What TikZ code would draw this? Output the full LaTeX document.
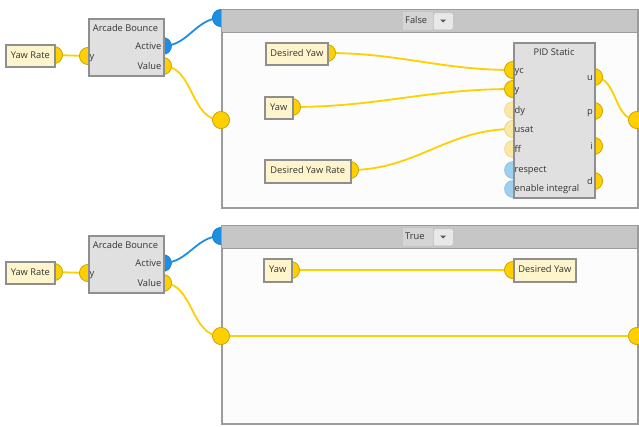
\documentclass[tikz,border=0pt]{standalone}
\usepackage{fontspec}
\setmainfont{Open Sans}
\definecolor{wirey}{HTML}{FFD000}
\definecolor{porty}{HTML}{FFD000}
\definecolor{portyb}{HTML}{C9A200}
\definecolor{portpale}{HTML}{FBE8A4}
\definecolor{portpaleb}{HTML}{E6D595}
\definecolor{portlb}{HTML}{9DD0F0}
\definecolor{portlbb}{HTML}{8ABDE0}
\definecolor{blu}{HTML}{1C8FE4}
\definecolor{blub}{HTML}{1A7CC6}
\definecolor{nodefill}{HTML}{FFF5CC}
\definecolor{nodeborder}{HTML}{8F8F8F}
\definecolor{blockfill}{HTML}{E0E0E0}
\definecolor{contborder}{HTML}{9C9C9C}
\definecolor{headfill}{HTML}{C6C6C6}
\definecolor{bodyfill}{HTML}{FCFCFC}
\definecolor{textc}{HTML}{333333}
\begin{document}
\begin{tikzpicture}[x=1pt,y=-1pt,
  box/.style={draw=nodeborder, line width=1.6pt, inner sep=0pt, anchor=north west},
  ybox/.style={box, fill=nodefill},
  gbox/.style={box, fill=blockfill},
  txt/.style={font=\fontsize{9.3}{11}\selectfont, text=textc, inner sep=0pt, text height=7pt, text depth=2pt},
  port/.style={circle, minimum size=17pt, inner sep=0pt, draw=portyb, line width=0.6pt, fill=porty},
  paleport/.style={port, draw=portpaleb, fill=portpale},
  lbport/.style={port, draw=portlbb, fill=portlb},
  bport/.style={port, draw=blub, fill=blu},
  wire/.style={draw=wirey, line width=1.8pt},
  bwire/.style={draw=blu, line width=1.8pt},
  cont/.style={draw=contborder, line width=1.8pt, fill=bodyfill, inner sep=0pt, anchor=north west},
  head/.style={draw=contborder, line width=1.2pt, fill=headfill, inner sep=0pt, anchor=north west},
  ddtext/.style={fill=black!17, inner sep=0pt, anchor=north west, minimum width=30pt, minimum height=18pt},
  ddbtn/.style={fill=black!9, draw=black!25, line width=0.6pt, rounded corners=1.5pt, inner sep=0pt, anchor=north west, minimum width=20pt, minimum height=17pt}
]
\clip (0,0) rectangle (639,426);
\fill[white] (0,0) rectangle (639,426);

% ---------- blue ports under containers ----------
\node[bport] (AB1a) at (163,46) {};
\node[bport] (FB) at (221,18) {};
\node[bport] (AB2a) at (163,263) {};
\node[bport] (TB) at (221,236) {};
\draw[bwire] (AB1a.center) to[out=0,in=180] (FB.center);
\draw[bwire] (AB2a.center) to[out=0,in=180] (TB.center);
\node[bport] at (FB) {};
\node[bport] at (TB) {};

% ---------- containers ----------
\node[cont, minimum width=416pt, minimum height=198pt] (F) at (221,9) {};
\node[head, minimum width=416pt, minimum height=23pt] (Fh) at (221,9) {};
\node[ddtext] (Fdd) at (403,12) {};
\node[txt, anchor=west] (Fddt) at (405,21) {False};
\node[ddbtn] (Fbtn) at (433,12.5) {};
\fill[black!65] (440,19.5) -- (446,19.5) -- (443,22.5) -- cycle;

\node[cont, minimum width=416pt, minimum height=198pt] (T) at (221,225) {};
\node[head, minimum width=416pt, minimum height=23pt] (Th) at (221,225) {};
\node[ddtext] (Tdd) at (403,228) {};
\node[txt, anchor=west] (Tddt) at (405,237) {True};
\node[ddbtn] (Tbtn) at (433,228.5) {};
\fill[black!65] (440,235.5) -- (446,235.5) -- (443,238.5) -- cycle;

% ---------- ports (yellow) ----------
\node[port] (YR1o) at (54,55) {};
\node[port] (AB1y) at (88,56) {};
\node[port] (AB1v) at (163,66) {};
\node[port] (Fin) at (221,120) {};
\node[port] (Fout) at (637,120) {};
\node[port] (DYo) at (327,53) {};
\node[port] (Yo) at (292,107) {};
\node[port] (DYRo) at (350,170) {};
\node[port] (Pyc) at (513,70) {};
\node[port] (Py) at (513,89) {};
\node[paleport] (Pdy) at (513,110) {};
\node[paleport] (Pusat) at (513,129) {};
\node[paleport] (Pff) at (513,149) {};
\node[lbport] (Presp) at (513,170) {};
\node[lbport] (Pen) at (513,189) {};
\node[port] (Pu) at (594,77) {};
\node[port] (Pp) at (594,111) {};
\node[port] (Pi) at (594,146) {};
\node[port] (Pd) at (594,181) {};

\node[port] (YR2o) at (54,272) {};
\node[port] (AB2y) at (88,273) {};
\node[port] (AB2v) at (163,283) {};
\node[port] (Tin) at (221,336) {};
\node[port] (Tout) at (637,336) {};
\node[port] (Y3o) at (291,270) {};
\node[port] (DY2i) at (513,270) {};

% ---------- wires ----------
\draw[wire] (YR1o.center) -- (AB1y.center);
\draw[wire] (AB1v.center) to[out=0,in=180] (Fin.center);
\draw[wire] (DYo.center) to[out=0,in=180] (Pyc.center);
\draw[wire] (Yo.center) to[out=0,in=180] (Py.center);
\draw[wire] (DYRo.center) to[out=0,in=180] (Pusat.center);
\draw[wire] (Pu.center) to[out=0,in=180] (Fout.center);
\draw[wire] (YR2o.center) -- (AB2y.center);
\draw[wire] (AB2v.center) to[out=0,in=180] (Tin.center);
\draw[wire] (Y3o.center) -- (DY2i.center);
\draw[wire] (Tin.center) -- (Tout.center);

% redraw ports over wires
\foreach \p in {YR1o,AB1y,AB1v,Fin,Fout,DYo,Yo,DYRo,Pyc,Py,Pu,Pp,Pi,Pd,YR2o,AB2y,AB2v,Tin,Tout,Y3o,DY2i}
  \node[port] at (\p) {};
\node[paleport] at (Pusat) {};

% ---------- boxes ----------
\node[ybox, minimum width=49pt, minimum height=22pt] (YR1) at (5,44) {};
\node[txt] (YR1t) at (YR1.center) {Yaw Rate};
\node[gbox, minimum width=75pt, minimum height=57pt] (AB1) at (88,18) {};
\node[txt] (AB1t) at (125.5,29) {Arcade Bounce};
\node[txt, anchor=west] (AB1yt) at (89.5,57) {y};
\node[txt, anchor=east] (AB1at) at (161.5,47) {Active};
\node[txt, anchor=east] (AB1vt) at (161.5,67) {Value};

\node[ybox, minimum width=62pt, minimum height=22pt] (DY) at (265,42) {};
\node[txt] (DYt) at (DY.center) {Desired Yaw};
\node[ybox, minimum width=28pt, minimum height=22pt] (Y) at (264,96) {};
\node[txt] (Yt) at (Y.center) {Yaw};
\node[ybox, minimum width=86pt, minimum height=23pt] (DYR) at (264,159) {};
\node[txt] (DYRt) at (DYR.center) {Desired Yaw Rate};

\node[gbox, minimum width=81pt, minimum height=155pt] (PID) at (513,42) {};
\node[txt] (PIDt) at (554,53) {PID Static};
\node[txt, anchor=west] (Lyc) at (514.5,71) {yc};
\node[txt, anchor=west] (Ly) at (514.5,90) {y};
\node[txt, anchor=west] (Ldy) at (514.5,111) {dy};
\node[txt, anchor=west] (Lusat) at (514.5,130) {usat};
\node[txt, anchor=west] (Lff) at (514.5,150) {ff};
\node[txt, anchor=west] (Lresp) at (514.5,170) {respect};
\node[txt, anchor=west] (Len) at (514.5,189) {enable integral};
\node[txt, anchor=east] (Lu) at (593,78) {u};
\node[txt, anchor=east] (Lp) at (593,112) {p};
\node[txt, anchor=east] (Li) at (593,147) {i};
\node[txt, anchor=east] (Ld) at (593,182) {d};

\node[ybox, minimum width=49pt, minimum height=22pt] (YR2) at (5,261) {};
\node[txt] (YR2t) at (YR2.center) {Yaw Rate};
\node[gbox, minimum width=75pt, minimum height=57pt] (AB2) at (88,235) {};
\node[txt] (AB2t) at (125.5,246) {Arcade Bounce};
\node[txt, anchor=west] (AB2yt) at (89.5,274) {y};
\node[txt, anchor=east] (AB2at) at (161.5,264) {Active};
\node[txt, anchor=east] (AB2vt) at (161.5,284) {Value};

\node[ybox, minimum width=28pt, minimum height=23pt] (Y3) at (263,258) {};
\node[txt] (Y3t) at (Y3.center) {Yaw};
\node[ybox, minimum width=62pt, minimum height=23pt] (DY2) at (513,258) {};
\node[txt] (DY2t) at (DY2.center) {Desired Yaw};
\end{tikzpicture}
\end{document}
